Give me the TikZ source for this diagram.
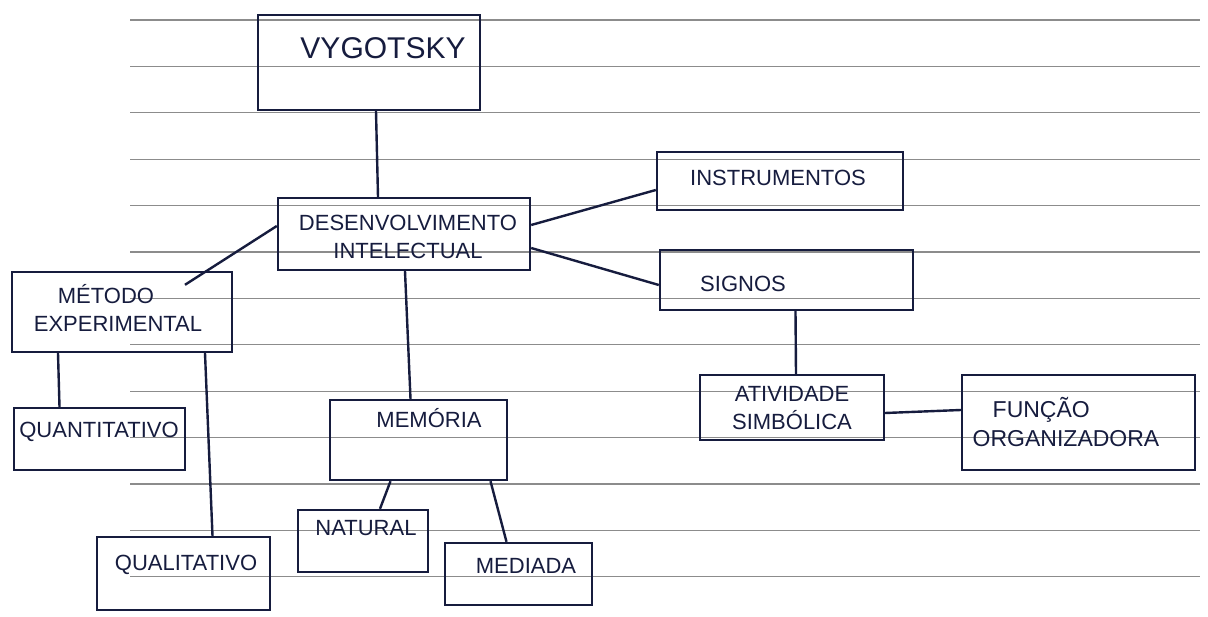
\documentclass[tikz,border=0pt]{standalone}
\usepackage{fontspec}
\usepackage{tikz}
\newfontfamily\handfont{Liberation Sans}
\definecolor{ink}{RGB}{22,28,62}
\definecolor{ruleline}{RGB}{140,140,140}

\tikzset{
  box/.style={draw=ink, line width=2.4pt, rectangle, inner sep=0pt},
  hand/.style={text=ink, align=center, inner sep=0pt, font=\handfont\fontsize{22}{28}\selectfont},
  link/.style={draw=ink, line width=2.4pt},
  rule/.style={draw=ruleline, line width=1.2pt}
}

\begin{document}
\begin{tikzpicture}[x=1pt,y=-1pt]
\useasboundingbox[fill=white] (0,0) rectangle (1208,617);

% paper lines
\foreach \k in {0,...,12}
  \draw[rule] (130,{20+46.4*\k}) -- (1200,{20+46.4*\k});

% boxes
\node[box, minimum width=222pt, minimum height=95pt] (vyg) at (369,62.5) {};
\node[box, minimum width=252pt, minimum height=72pt] (desenv) at (404,234) {};
\node[box, minimum width=246pt, minimum height=58pt] (instr) at (780,181) {};
\node[box, minimum width=253pt, minimum height=60pt] (signos) at (786.5,280) {};
\node[box, minimum width=220pt, minimum height=80pt] (metodo) at (122,312) {};
\node[box, minimum width=171pt, minimum height=62pt] (quanti) at (99.5,439) {};
\node[box, minimum width=173pt, minimum height=73pt] (quali) at (183.5,573.5) {};
\node[box, minimum width=177pt, minimum height=80pt] (memoria) at (418.5,440) {};
\node[box, minimum width=130pt, minimum height=62pt] (natural) at (363,541) {};
\node[box, minimum width=147pt, minimum height=62pt] (mediada) at (518.5,574) {};
\node[box, minimum width=184pt, minimum height=65pt] (ativ) at (792,407.5) {};
\node[box, minimum width=233pt, minimum height=95pt] (funcao) at (1078.5,422.5) {};

% texts
\node[hand, font=\handfont\fontsize{30}{36}\selectfont] (tvyg) at (383,48) {VYGOTSKY};
\node[hand] (tdesenv) at (408,237) {DESENVOLVIMENTO\\INTELECTUAL};
\node[hand] (tinstr) at (778,178) {INSTRUMENTOS};
\node[hand] (tsignos) at (743,284) {SIGNOS};
\node[hand] (tmetodo) at (118,308) {MÉTODO\hspace*{24pt}\\EXPERIMENTAL};
\node[hand] (tquanti) at (99,432) {QUANTITATIVO};
\node[hand] (tquali) at (186,565) {QUALITATIVO};
\node[hand] (tmemoria) at (429,418) {MEMÓRIA};
\node[hand] (tnatural) at (366,528) {NATURAL};
\node[hand] (tmediada) at (526,566) {MEDIADA};
\node[hand] (tativ) at (792,408) {ATIVIDADE\\SIMBÓLICA};
\node[hand, align=left, font=\handfont\fontsize{23}{29}\selectfont] (tfuncao) at (1066,422) {\hspace*{20pt}FUNÇÃO\\ORGANIZADORA};

% links
\draw[link] ([xshift=7pt]vyg.south) -- ([xshift=-26pt]desenv.north);
\draw[link] ([yshift=9pt]desenv.east) -- ([yshift=-9pt]instr.west);
\draw[link] ([yshift=-14pt]desenv.east) -- ([yshift=-5pt]signos.west);
\draw[link] ([yshift=8pt]desenv.west) -- ([xshift=63pt,yshift=-14pt]metodo.north);
\draw[link] ([xshift=-64pt]metodo.south) -- ([xshift=-40pt]quanti.north);
\draw[link] ([xshift=83pt]metodo.south) -- ([xshift=29pt]quali.north);
\draw[link] ([xshift=1pt]desenv.south) -- ([xshift=-8pt]memoria.north);
\draw[link] ([xshift=-28pt]memoria.south) -- ([xshift=17pt]natural.north);
\draw[link] ([xshift=72pt]memoria.south) -- ([xshift=-12pt]mediada.north);
\draw[link] ([xshift=9pt]signos.south) -- ([xshift=4pt]ativ.north);
\draw[link] ([yshift=-5.5pt]ativ.east) -- ([yshift=12.5pt]funcao.west);
\end{tikzpicture}
\end{document}
